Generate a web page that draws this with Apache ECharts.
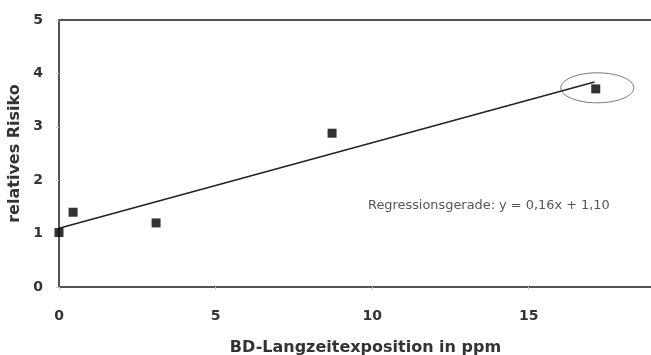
<!DOCTYPE html>
<html>
<head>
<meta charset="utf-8">
<script src="https://cdn.jsdelivr.net/npm/echarts@6/dist/echarts.min.js"></script>
<style>
  html, body { margin: 0; padding: 0; background: #fff; }
  #chart { width: 651px; height: 355px; }
</style>
</head>
<body>
<div id="chart"></div>
<script>
// Messpunkte
const exposure = [0, 0.45, 3.1, 8.72, 17.14];
const risk = [1.02, 1.4, 1.2, 2.88, 3.71];
// Regressionsgerade y = 0,16x + 1,10
const lineX = [0, 17.1];
const lineY = [1.10, 3.84];
// Markierung um den letzten Punkt
const circleCenter = [17.19, 3.73];

const chart = echarts.init(document.getElementById('chart'));
const font = '"DejaVu Sans", sans-serif';

chart.setOption({
    animation: false,
    grid: { left: 59, top: 20, width: 595, bottom: 68, outerBoundsMode: 'none', containLabel: false },
    xAxis: [{
        type: 'value', min: 0, max: 19, interval: 5,
        name: 'BD-Langzeitexposition in ppm',
        nameLocation: 'middle', nameGap: 53,
        nameTextStyle: { fontFamily: font, fontSize: 16, fontWeight: 'bold', color: '#333', padding: [0, 0, 0, 18] },
        axisLine: { show: true, lineStyle: { color: '#555', width: 2 } },
        axisTick: { show: true, length: 3, lineStyle: { color: '#ccc' } },
        axisLabel: {
            fontFamily: font, fontSize: 14, fontWeight: 'bold', color: '#333', margin: 22,
            formatter: v => (v % 5 === 0 ? v : '')
        },
        splitLine: { show: false }
    }, {
        type: 'value', position: 'top', min: 0, max: 19,
        axisLine: { show: true, lineStyle: { color: '#555', width: 2 } },
        axisTick: { show: false }, axisLabel: { show: false }, splitLine: { show: false }
    }],
    yAxis: {
        type: 'value', min: 0, max: 5, interval: 1,
        name: 'relatives Risiko',
        nameLocation: 'middle', nameGap: 30, nameRotate: 90,
        nameTextStyle: { fontFamily: font, fontSize: 16, fontWeight: 'bold', color: '#333' },
        axisLine: { show: true, lineStyle: { color: '#555', width: 2 } },
        axisTick: { show: true, length: 3, lineStyle: { color: '#ccc' } },
        axisLabel: { fontFamily: font, fontSize: 14, fontWeight: 'bold', color: '#333', margin: 16 },
        splitLine: { show: false }
    },
    series: [{
        type: 'line',
        data: lineX.map((x, i) => [x, lineY[i]]),
        symbol: 'none',
        lineStyle: { color: '#222', width: 1.5 },
        z: 2
    }, {
        type: 'scatter',
        data: exposure.map((x, i) => [x, risk[i]]),
        symbol: 'rect', symbolSize: 9,
        itemStyle: { color: '#000' },
        z: 3
    }, {
        type: 'custom',
        data: [circleCenter],
        renderItem: (params, api) => {
            const c = api.coord([api.value(0), api.value(1)]);
            return {
                type: 'ellipse',
                shape: { cx: c[0], cy: c[1], rx: 36.5, ry: 15 },
                style: { fill: 'none', stroke: '#777', lineWidth: 1 }
            };
        },
        z: 1
    }],
    graphic: [{
        type: 'text',
        left: 368, top: 199,
        style: {
            text: 'Regressionsgerade: y = 0,16x + 1,10',
            font: '12.9px ' + font,
            fill: '#555'
        }
    }]
});
</script>
</body>
</html>
